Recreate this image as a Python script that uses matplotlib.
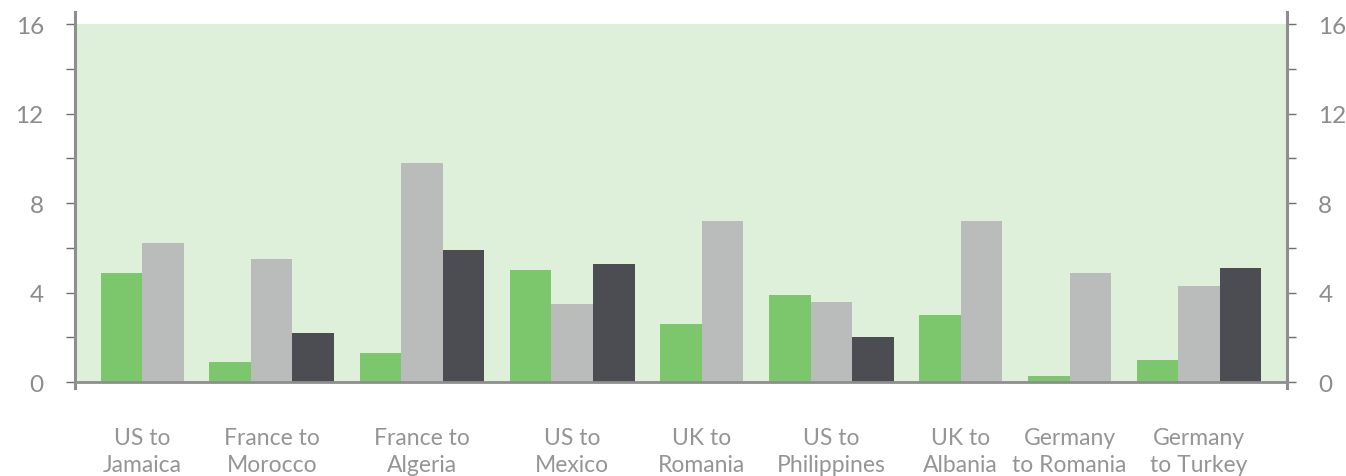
"""
Grouped bar chart: remittance corridors
"""

import numpy as np
import matplotlib
matplotlib.use('Agg')
import matplotlib.pyplot as plt
from matplotlib.ticker import MultipleLocator

plt.rcParams['font.family'] = ['Lato', 'DejaVu Sans']

# 数据
corridors = ['US to\nJamaica', 'France to\nMorocco', 'France to\nAlgeria', 'US to\nMexico',
             'UK to\nRomania', 'US to\nPhilippines', 'UK to\nAlbania', 'Germany\nto Romania',
             'Germany\nto Turkey']
series_green = [4.9, 0.9, 1.3, 5.0, 2.6, 3.9, 3.0, 0.3, 1.0]
series_light = [6.2, 5.5, 9.8, 3.5, 7.2, 3.6, 7.2, 4.9, 4.3]
series_dark = [np.nan, 2.2, 5.9, 5.3, np.nan, 2.0, np.nan, np.nan, 5.1]

# 样式
colors = ['#7cc76c', '#babcbb', '#4c4d52']
bg_color = '#dff0da'
axis_color = '#8e8e8e'
text_color = '#8c8c8c'
GAP = 0.62

fig = plt.figure(figsize=(13.46, 4.77), dpi=100)
ax = fig.add_axes([75 / 1346, 1 - 389.3 / 477, 1212 / 1346, (389.3 - 12.7) / 477])

# 按组依次绘制柱子，缺失值不占位
x = GAP
centers = []
for i in range(len(corridors)):
    start = x
    for vals, c in zip([series_green, series_light, series_dark], colors):
        v = vals[i]
        if np.isnan(v):
            continue
        ax.bar(x, v, width=1.0, align='edge', color=c, linewidth=0, zorder=2)
        x += 1.0
    centers.append((start + x) / 2)
    x += GAP

ax.set_xlim(0, x)
ax.set_ylim(-0.27, 16.55)

# 背景和零线
ax.axhspan(0, 16, color=bg_color, zorder=0, linewidth=0)
ax.axhline(0, color=axis_color, linewidth=2.0, zorder=3)

for side in ['top', 'bottom']:
    ax.spines[side].set_visible(False)
for side in ['left', 'right']:
    ax.spines[side].set_color(axis_color)
    ax.spines[side].set_linewidth(2.2)

ax.yaxis.set_major_locator(MultipleLocator(4))
ax.yaxis.set_minor_locator(MultipleLocator(2))
ax.tick_params(axis='y', which='both', direction='out', length=6.5, width=1.0,
               color='#6f6f6f', left=True, right=True, labelleft=True, labelright=True)
ax.tick_params(axis='y', which='major', labelsize=17.5, labelcolor=text_color, pad=16)

ax.set_xticks(centers)
ax.set_xticklabels(corridors, fontsize=16.5, color='#959595', linespacing=1.35)
ax.tick_params(axis='x', length=0, pad=28)

fig.savefig('out.png', dpi=100, facecolor='white')
